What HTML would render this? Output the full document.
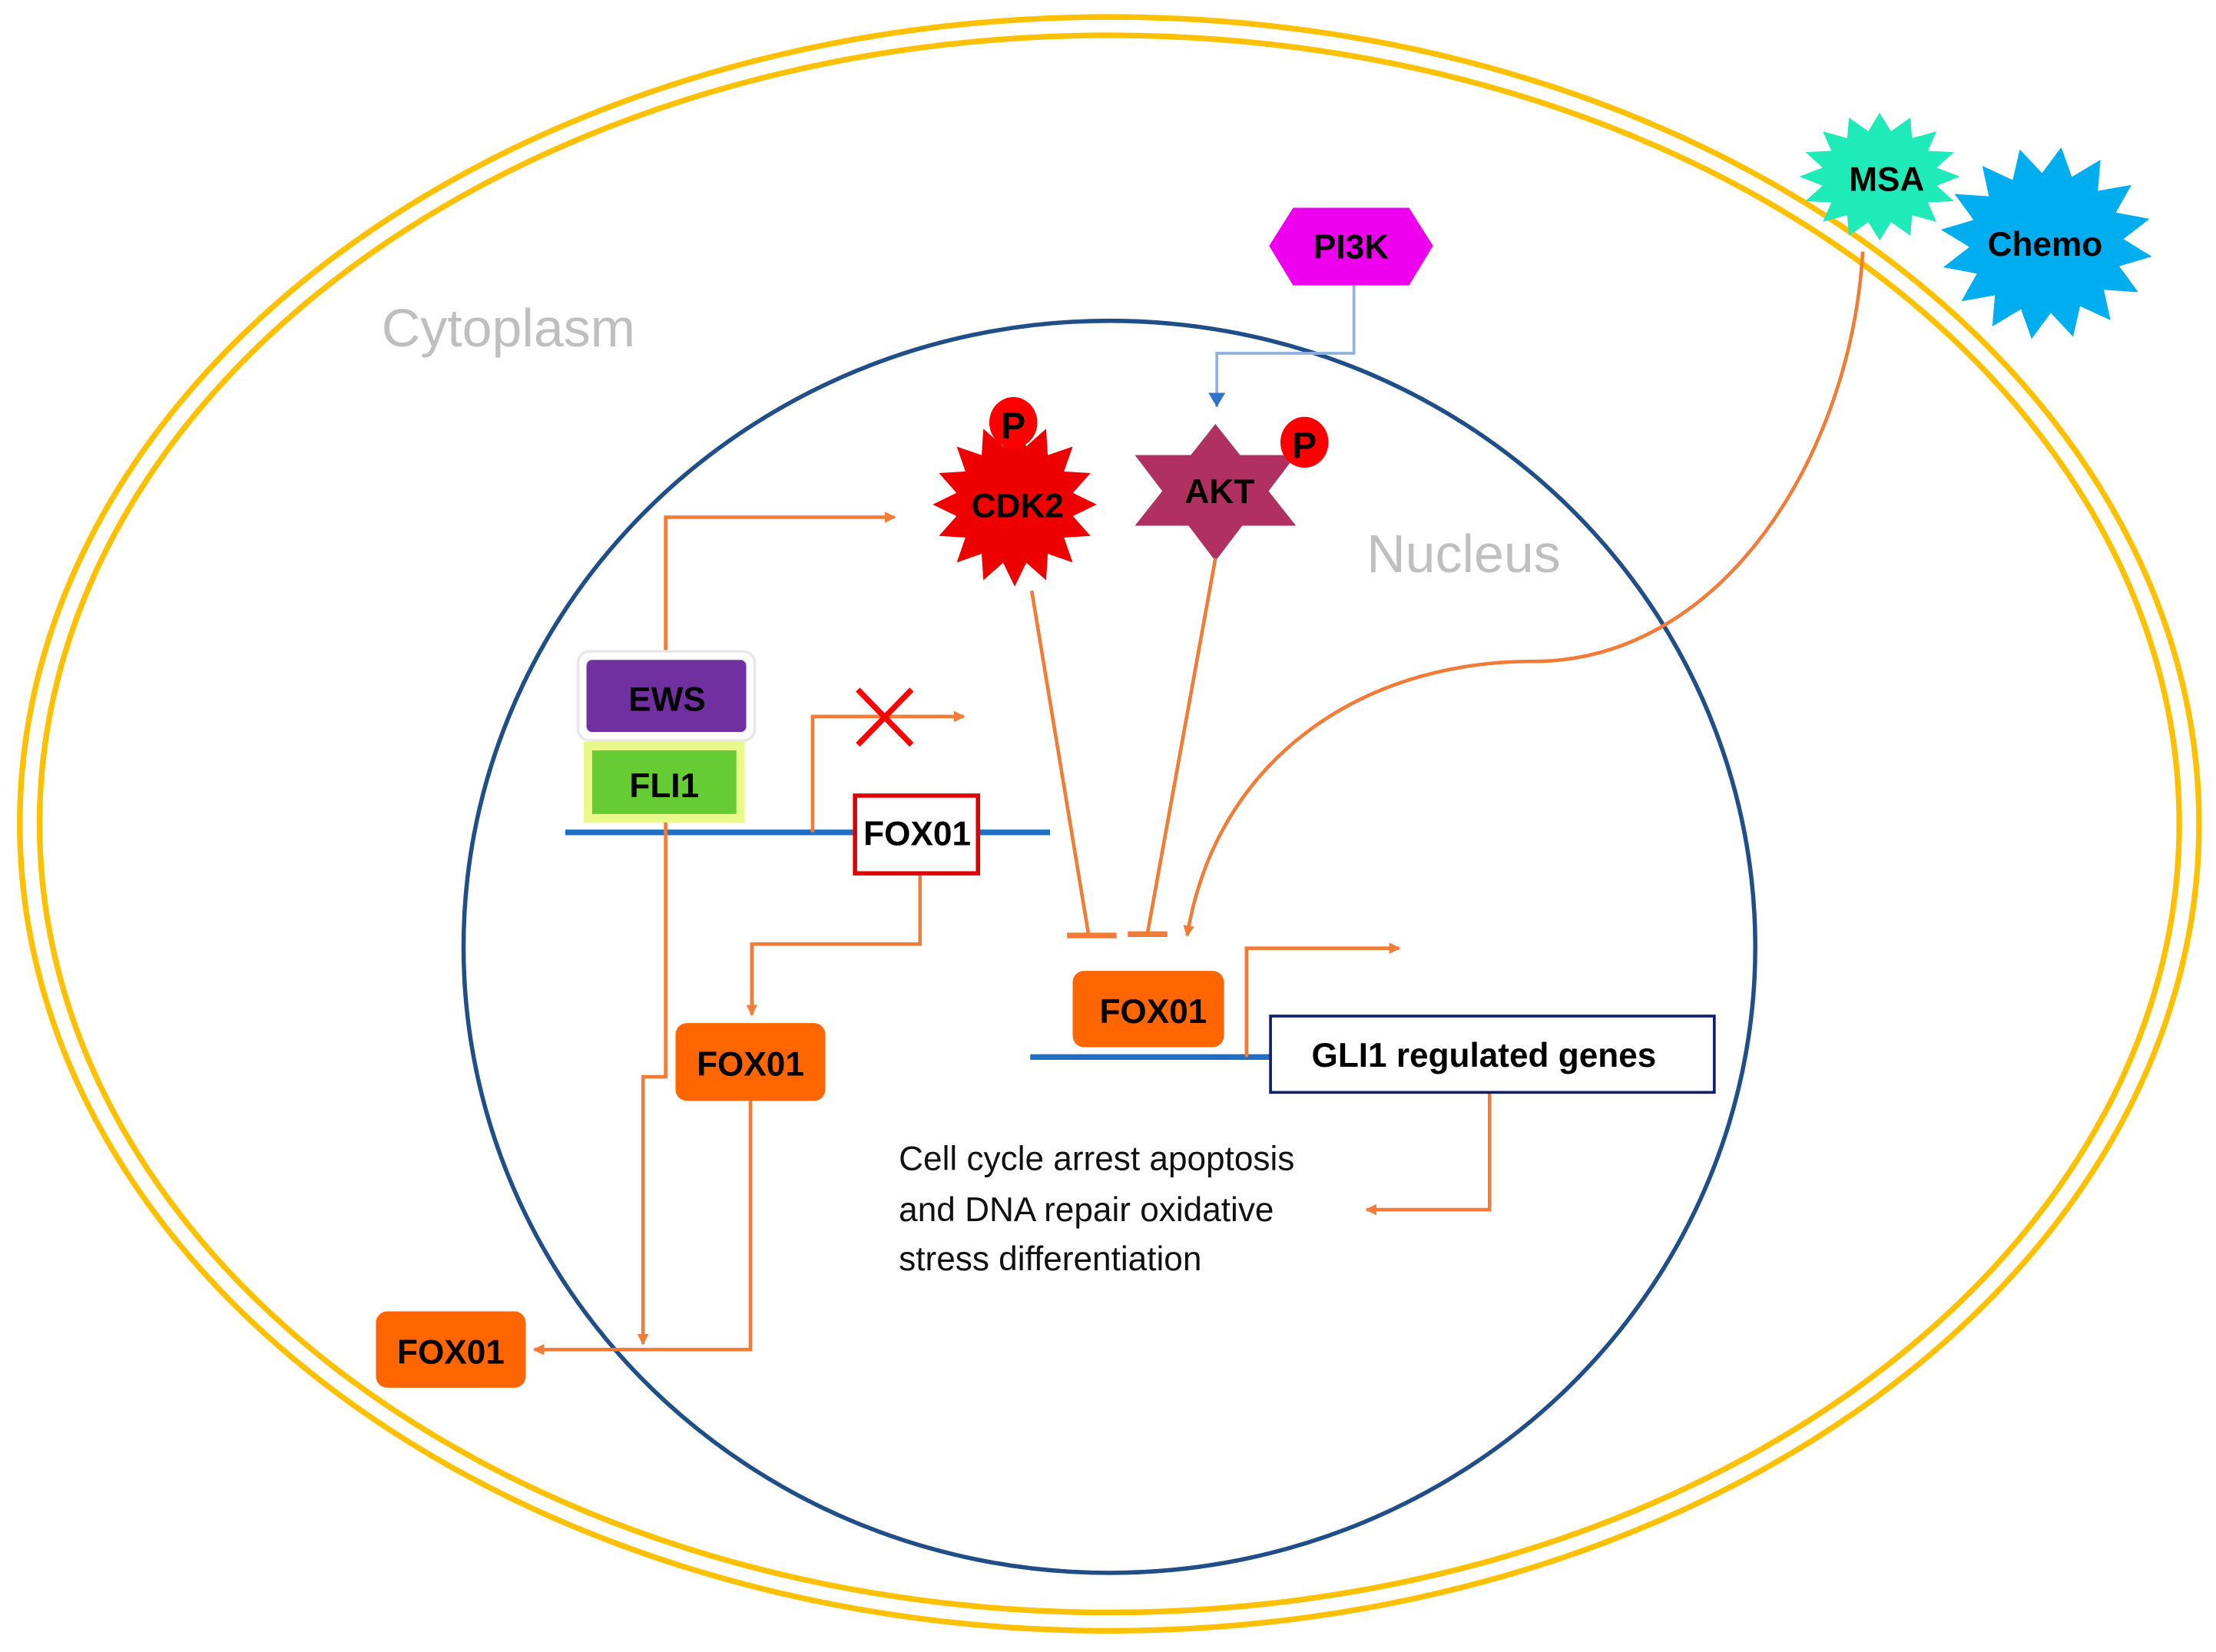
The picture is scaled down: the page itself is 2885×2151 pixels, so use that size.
<!DOCTYPE html>
<html><head><meta charset="utf-8"><style>
html,body{margin:0;padding:0;background:#fff;}
svg{display:block;}
text{font-family:"Liberation Sans",sans-serif;}
</style></head><body>
<svg width="2885" height="2151" viewBox="0 0 1568 1169" preserveAspectRatio="none" xmlns="http://www.w3.org/2000/svg">
<defs>
<marker id="ao" markerWidth="8" markerHeight="8" refX="7" refY="4" orient="auto" markerUnits="userSpaceOnUse"><path d="M0,0 L8,4 L0,8 Z" fill="#F47B35"/></marker>
<marker id="ab" markerWidth="12" markerHeight="10" refX="6" refY="10" orient="0" markerUnits="userSpaceOnUse"><path d="M0,0 L12,0 L6,10 Z" fill="#2F73C9"/></marker>
<polygon id="star16" points="58,0 41.2,8.2 53.6,22.2 34.9,23.4 41,41 23.4,34.9 22.2,53.6 8.2,41.2 0,58 -8.2,41.2 -22.2,53.6 -23.4,34.9 -41,41 -34.9,23.4 -53.6,22.2 -41.2,8.2 -58,0 -41.2,-8.2 -53.6,-22.2 -34.9,-23.4 -41,-41 -23.4,-34.9 -22.2,-53.6 -8.2,-41.2 0,-58 8.2,-41.2 22.2,-53.6 23.4,-34.9 41,-41 34.9,-23.4 53.6,-22.2 41.2,-8.2"/>
</defs>
<rect width="1568" height="1169" fill="#fff"/>
<!-- cell membrane -->
<ellipse cx="785" cy="583" rx="771" ry="571" fill="none" stroke="#FFC000" stroke-width="4"/>
<ellipse cx="785" cy="583" rx="757" ry="558" fill="none" stroke="#FFC000" stroke-width="4"/>
<!-- nucleus -->
<ellipse cx="785" cy="670" rx="457" ry="443" fill="none" stroke="#1F4E89" stroke-width="3"/>
<text x="270" y="245" font-size="38" fill="#BFBFBF">Cytoplasm</text>
<text x="967" y="405" font-size="38" fill="#BFBFBF">Nucleus</text>

<!-- PI3K -->
<polygon points="898,174 915,147 997,147 1014,174 997,202 915,202" fill="#EE00EE"/>
<text x="956" y="183" font-size="24" font-weight="bold" text-anchor="middle">PI3K</text>
<polyline points="958,202 958,250 861,250 861,288" fill="none" stroke="#8FB0E0" stroke-width="2" marker-end="url(#ab)"/>

<!-- CDK2 -->
<use href="#star16" transform="translate(718,357)" fill="#EE0000"/>
<text x="720" y="366" font-size="24" font-weight="bold" text-anchor="middle">CDK2</text>
<ellipse cx="717" cy="299" rx="17" ry="18" fill="#FF0000"/>
<text x="717" y="310" font-size="26" font-weight="bold" text-anchor="middle">P</text>

<!-- AKT -->
<polygon points="860,300 803,372 917,372" fill="#B03060"/>
<polygon points="860,397 803,322 917,322" fill="#B03060"/>
<text x="863" y="356" font-size="24" font-weight="bold" text-anchor="middle">AKT</text>
<ellipse cx="923" cy="313" rx="17" ry="18" fill="#FF0000"/>
<text x="923" y="324" font-size="26" font-weight="bold" text-anchor="middle">P</text>

<!-- MSA / Chemo -->
<use href="#star16" transform="translate(1330,125) scale(0.98,0.78)" fill="#1EEBB8"/>
<text x="1335" y="135" font-size="24" font-weight="bold" text-anchor="middle">MSA</text>
<use href="#star16" transform="translate(1448,172) scale(1.3,1.18) rotate(8)" fill="#00AEEF"/>
<text x="1447" y="181" font-size="24" font-weight="bold" text-anchor="middle">Chemo</text>
<path d="M1318,178 C1310,320 1220,468 1085,468 C960,468 860,540 840,662" fill="none" stroke="#F47B35" stroke-width="2.5" marker-end="url(#ao)"/>

<!-- DNA lines -->
<line x1="400" y1="589" x2="743" y2="589" stroke="#1F6FC5" stroke-width="4"/>
<line x1="729" y1="748" x2="900" y2="748" stroke="#1F6FC5" stroke-width="4"/>

<!-- connectors -->
<polyline points="471,470 471,366 633,366" fill="none" stroke="#F47B35" stroke-width="2.5" marker-end="url(#ao)"/>
<polyline points="575,589 575,507 682,507" fill="none" stroke="#F47B35" stroke-width="2.5" marker-end="url(#ao)"/>
<path d="M607,488 L645,527 M645,488 L607,527" stroke="#FF0000" stroke-width="4"/>
<polyline points="651,618 651,668 532,668 532,718" fill="none" stroke="#F47B35" stroke-width="2.5" marker-end="url(#ao)"/>
<polyline points="471,582 471,762 455,762 455,951" fill="none" stroke="#F47B35" stroke-width="2.5" marker-end="url(#ao)"/>
<polyline points="531,779 531,955 378,955" fill="none" stroke="#F47B35" stroke-width="2.5" marker-end="url(#ao)"/>
<line x1="730" y1="418" x2="770" y2="660" stroke="#F47B35" stroke-width="2.5"/>
<line x1="755" y1="662" x2="790" y2="662" stroke="#F47B35" stroke-width="4"/>
<line x1="860" y1="395" x2="812" y2="660" stroke="#F47B35" stroke-width="2.5"/>
<line x1="798" y1="661" x2="826" y2="661" stroke="#F47B35" stroke-width="4"/>
<polyline points="882,748 882,671 990,671" fill="none" stroke="#F47B35" stroke-width="2.5" marker-end="url(#ao)"/>
<polyline points="1054,773 1054,856 967,856" fill="none" stroke="#F47B35" stroke-width="2.5" marker-end="url(#ao)"/>

<!-- EWS / FLI1 -->
<rect x="409" y="461" width="125" height="63" rx="8" fill="#fff" stroke="#e8e8e8" stroke-width="2"/>
<rect x="415" y="467" width="113" height="51" rx="4" fill="#7030A0"/>
<text x="472" y="503" font-size="24" font-weight="bold" text-anchor="middle">EWS</text>
<rect x="413" y="525" width="114" height="57" fill="#E8F88A"/>
<rect x="419" y="531" width="102" height="45" fill="#66CC33"/>
<text x="470" y="564" font-size="24" font-weight="bold" text-anchor="middle">FLI1</text>

<!-- FOX01 boxes -->
<rect x="605" y="563" width="87" height="55" fill="#fff" stroke="#E00000" stroke-width="3"/>
<text x="649" y="598" font-size="24" font-weight="bold" text-anchor="middle">FOX01</text>
<rect x="478" y="724" width="106" height="55" rx="8" fill="#FF6600"/>
<text x="531" y="761" font-size="24" font-weight="bold" text-anchor="middle">FOX01</text>
<rect x="266" y="928" width="106" height="54" rx="8" fill="#FF6600"/>
<text x="319" y="965" font-size="24" font-weight="bold" text-anchor="middle">FOX01</text>
<rect x="759" y="687" width="107" height="54" rx="8" fill="#FF6600"/>
<text x="816" y="724" font-size="24" font-weight="bold" text-anchor="middle">FOX01</text>

<!-- GLI1 -->
<rect x="899" y="719" width="314" height="54" fill="#fff" stroke="#0F1F70" stroke-width="2"/>
<text x="1050" y="755" font-size="24" font-weight="bold" text-anchor="middle">GLI1 regulated genes</text>

<text font-size="24" fill="#111"><tspan x="636" y="828">Cell cycle arrest apoptosis</tspan><tspan x="636" y="864">and DNA repair oxidative</tspan><tspan x="636" y="899">stress differentiation</tspan></text>
</svg>
</body></html>
